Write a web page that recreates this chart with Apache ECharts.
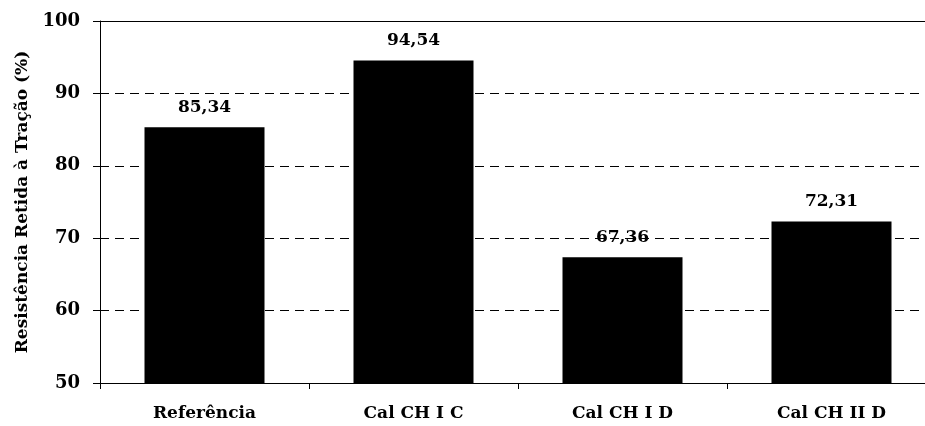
<!DOCTYPE html>
<html><head><meta charset="utf-8">
<script src="https://cdn.jsdelivr.net/npm/echarts@6/dist/echarts.min.js"></script>
<style>html,body{margin:0;padding:0;background:#fff}#c{width:925px;height:426px}</style>
</head><body><div id="c"></div>
<script>
const categories = ['Referência', 'Cal CH I C', 'Cal CH I D', 'Cal CH II D'];
const values = [85.34, 94.54, 67.36, 72.31];
const yTicks = {min: 50, max: 100, interval: 10};
const yName = 'Resistência Retida à Tração (%)';
const font = '"DejaVu Serif",serif';
const chart = echarts.init(document.getElementById('c'));
chart.setOption({
  animation: false,
  grid: {left: 100, width: 836, top: 21, height: 362, outerBoundsMode: 'none', containLabel: false},
  xAxis: {
    type: 'category', data: categories,
    axisLine: {lineStyle: {color: '#000', width: 1}},
    axisTick: {show: true, length: 6, lineStyle: {color: '#000'}, alignWithLabel: false},
    axisLabel: {color: '#000', fontFamily: font, fontWeight: 'bold', fontSize: 17, margin: 22}
  },
  yAxis: {
    type: 'value', min: yTicks.min, max: yTicks.max, interval: yTicks.interval,
    name: yName, nameLocation: 'middle', nameGap: 66, nameRotate: 90,
    nameTextStyle: {color: '#000', fontFamily: font, fontWeight: 'bold', fontSize: 17},
    axisLine: {show: true, lineStyle: {color: '#000', width: 1}},
    axisTick: {show: true, inside: false, length: 7, lineStyle: {color: '#000'}},
    axisLabel: {color: '#000', fontFamily: font, fontWeight: 'bold', fontSize: 18, margin: 20},
    splitLine: {show: true, lineStyle: {color: '#000', type: [9, 6], width: 1}}
  },
  series: [{
    type: 'bar', data: values, barWidth: 120,
    itemStyle: {color: '#000'},
    label: {show: true, position: 'top', distance: 11, color: '#000', fontFamily: font, fontWeight: 'bold', fontSize: 17,
      formatter: p => p.value.toFixed(2).replace('.', ',')},
    markLine: {silent: true, symbol: 'none', label: {show: false},
      lineStyle: {color: '#000', type: 'solid', width: 1},
      data: [{yAxis: yTicks.max}]}
  }]
});
</script></body></html>
